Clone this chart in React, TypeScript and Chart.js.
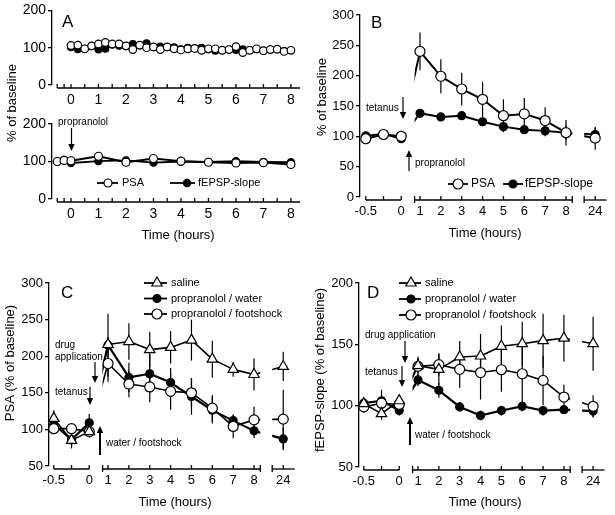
import React, { useEffect, useRef } from 'react';
import { Chart, registerables } from 'chart.js';

Chart.register(...registerables);

const FONT = "'Liberation Sans', Arial, Helvetica, sans-serif";
Chart.defaults.font.family = FONT;
Chart.defaults.color = '#000';

// ---------------- DATA ----------------
// Panel A (top): time course 0-8 h, every 15 min
const A_TOP_TIMES = [0, 0.25, 0.5, 0.75, 1, 1.25, 1.5, 1.75, 2, 2.25, 2.5, 2.75, 3, 3.25, 3.5, 3.75, 4, 4.25, 4.5, 4.75, 5, 5.25, 5.5, 5.75, 6, 6.25, 6.5, 6.75, 7, 7.25, 7.5, 7.75, 8];
const A_TOP_PSA = [106, 107, 97, 105, 110, 114, 110, 110, 105, 95, 107, 100, 102, 95, 102, 97, 94, 97, 98, 93, 97, 97, 93, 95, 103, 87, 93, 97, 92, 95, 96, 90, 93];
const A_TOP_FEPSP = [101, 96, 97, 104, 95, 97, 108, 105, 104, 110, 106, 112, 101, 103, 101, 101, 96, 100, 98, 100, 96, 92, 94, 95, 94, 96, 94, 96, 92, 95, 95, 91, 93];

// Panel A (bottom): propranolol
const A_BOT_TIMES = [-0.5, -0.25, 0, 1, 2, 3, 4, 5, 6, 7, 8];
const A_BOT_PSA = [100, 103, 102, 114, 98, 108, 101, 98, 96, 97, 92];
const A_BOT_FEPSP = [100, 104, 96, 101, 103, 97, 100, 99, 101, 99, 98];

// Panels B-D share time points
const TIMES_BCD = [-0.5, -0.25, 0, 1, 2, 3, 4, 5, 6, 7, 8, 24];

const B_PSA = [96, 103, 100, 240, 199, 178, 161, 134, 137, 126, 106, 97];
const B_PSA_ERR = [4, 4, 8, 31, 28, 27, 29, 27, 26, 22, 21, 19];
const B_FEPSP = [101, 104, 96, 138, 132, 134, 124, 116, 111, 109, 106, 103];
const B_FEPSP_ERR = [4, 3, 4, 6, 4, 6, 6, 9, 7, 9, 12, 11];

const C_SALINE = [115, 85, 97, 216, 220, 209, 212, 222, 196, 182, 175, 186];
const C_SALINE_ERR = [11, 11, 8, 10, 25, 24, 22, 28, 25, 10, 22, 20];
const C_WATER = [107, 86, 109, 215, 171, 176, 164, 145, 126, 112, 98, 87];
const C_WATER_ERR = [10, 8, 12, 43, 20, 27, 20, 25, 18, 8, 10, 15];
const C_SHOCK = [101, 101, 97, 190, 162, 158, 152, 150, 129, 104, 113, 114];
const C_SHOCK_ERR = [6, 5, 6, 25, 18, 21, 25, 20, 18, 16, 18, 40];

const D_SALINE = [101.6, 93.5, 104, 132.6, 129.6, 139.7, 140.5, 148.4, 150.5, 153, 155, 150.5];
const D_SALINE_ERR = [4, 5, 5, 6, 13, 13, 18, 17, 18, 22, 19, 22];
const D_WATER = [102, 104, 96, 121, 112.5, 99, 92, 96, 99.5, 96, 96.7, 95.6];
const D_WATER_ERR = [3, 9, 4, 5, 6, 4, 4, 4, 4, 4, 3, 5];
const D_SHOCK = [99, 102, 101, 132, 133.4, 129.6, 127, 129.3, 126, 120.6, 107, 99.5];
const D_SHOCK_ERR = [5, 4, 5, 8, 9, 15, 22, 18, 23, 20, 10, 9];

// Tick definitions
const A_X_TICKS = [-0.5, -0.25, 0, 0.5, 1, 1.5, 2, 2.5, 3, 3.5, 4, 4.5, 5, 5.5, 6, 6.5, 7, 7.5, 8];
const A_X_LABELS = ['', '', '0', '', '1', '', '2', '', '3', '', '4', '', '5', '', '6', '', '7', '', '8'];
const BCD_X_TICKS = [-0.5, -0.25, 0, 1, 2, 3, 4, 5, 6, 7, 8, 24];
const BCD_X_LABELS = ['-0.5', '', '0', '1', '2', '3', '4', '5', '6', '7', '8', '24'];

// ---------------- AXIS TRANSFORM (broken time axis) ----------------
const identity = (t: number) => t;
function brokenAxis(t: number): number {
  if (t <= 0) return 0.1 + t * 3.4; // baseline section stretched
  if (t <= 8) return t;
  return 9.4; // 24 h section
}
const BROKEN_SEGMENTS = [[-1.6, 0.1], [0.74, 8.3], [8.87, 9.95]];
const BROKEN_CAPS = [0.74, 8.3, 8.87];

// ---------------- TYPES ----------------
type Marker = 'open' | 'filled' | 'triangle';
interface SeriesSpec { label: string; times: number[]; values: number[]; errors?: number[]; marker: Marker; radius: number; lineWidth: number; }
interface TextSpec { text: string; x: number; y: number; size: number; align?: CanvasTextAlign; rotate?: boolean; }
interface ArrowSpec { x: number; from: number; to: number; width: number; }
interface LegendSpec { marker: Marker; radius: number; x1: number; x2: number; mx: number; y: number; text: string; tx: number; size: number; lineWidth: number; }
interface PanelSpec {
  area: { left: number; top: number; right: number; bottom: number };
  xMin: number; xMax: number; yMin: number; yMax: number; yStep: number;
  xPos: (t: number) => number;
  xTicks: number[]; xLabels: string[];
  axisSegments: number[][]; axisCaps: number[]; lineClips: number[][] | null;
  series: SeriesSpec[];
  texts: TextSpec[]; arrows: ArrowSpec[]; legend: LegendSpec[];
  tickFont: number;
}

const W = 615;
const H = 515;
const Y_AXIS_W = 40;
const X_AXIS_H = 30;

function drawMarker(ctx: CanvasRenderingContext2D, m: Marker, x: number, y: number, r: number) {
  ctx.save();
  ctx.beginPath();
  if (m === 'triangle') {
    ctx.moveTo(x, y - r);
    ctx.lineTo(x + 0.866 * r, y + 0.5 * r);
    ctx.lineTo(x - 0.866 * r, y + 0.5 * r);
    ctx.closePath();
  } else {
    ctx.arc(x, y, r, 0, Math.PI * 2);
  }
  ctx.fillStyle = m === 'filled' ? '#000' : '#fff';
  ctx.fill();
  ctx.lineWidth = 1.2;
  ctx.strokeStyle = '#000';
  ctx.stroke();
  ctx.restore();
}

function drawArrow(ctx: CanvasRenderingContext2D, a: ArrowSpec) {
  const dir = Math.sign(a.to - a.from);
  const headL = 7;
  const headW = 3.2;
  ctx.save();
  ctx.strokeStyle = '#000';
  ctx.fillStyle = '#000';
  ctx.lineWidth = a.width;
  ctx.beginPath();
  ctx.moveTo(a.x, a.from);
  ctx.lineTo(a.x, a.to - dir * headL);
  ctx.stroke();
  ctx.beginPath();
  ctx.moveTo(a.x, a.to);
  ctx.lineTo(a.x - headW, a.to - dir * headL);
  ctx.lineTo(a.x + headW, a.to - dir * headL);
  ctx.closePath();
  ctx.fill();
  ctx.restore();
}

function decorPlugin(p: PanelSpec) {
  return {
    id: 'decor',
    beforeDatasetsDraw(chart: any) {
      const ctx: CanvasRenderingContext2D = chart.ctx;
      const xs = chart.scales.x;
      const ys = chart.scales.y;
      // connecting lines (clipped to axis segments)
      p.series.forEach((s, di) => {
        if (!s.lineWidth) return;
        const meta = chart.getDatasetMeta(di);
        ctx.save();
        if (p.lineClips) {
          ctx.beginPath();
          p.lineClips.forEach(([a, b]) => {
            const xa = xs.getPixelForValue(a);
            const xb = xs.getPixelForValue(b);
            ctx.rect(xa, 0, xb - xa, H);
          });
          ctx.clip();
        }
        ctx.beginPath();
        meta.data.forEach((pt: any, i: number) => {
          if (i === 0) ctx.moveTo(pt.x, pt.y);
          else ctx.lineTo(pt.x, pt.y);
        });
        ctx.lineWidth = s.lineWidth;
        ctx.lineJoin = 'round';
        ctx.strokeStyle = '#000';
        ctx.stroke();
        ctx.restore();
      });
      // error bars
      p.series.forEach((s, di) => {
        if (!s.errors) return;
        const meta = chart.getDatasetMeta(di);
        ctx.save();
        ctx.strokeStyle = '#000';
        ctx.lineWidth = 1.2;
        s.errors.forEach((e, i) => {
          if (!e) return;
          const x = meta.data[i].x;
          ctx.beginPath();
          ctx.moveTo(x, ys.getPixelForValue(s.values[i] + e));
          ctx.lineTo(x, ys.getPixelForValue(s.values[i] - e));
          ctx.stroke();
        });
        ctx.restore();
      });
    },
    afterDraw(chart: any) {
      const ctx: CanvasRenderingContext2D = chart.ctx;
      const xs = chart.scales.x;
      const axY = chart.chartArea.bottom + 3;
      ctx.save();
      ctx.strokeStyle = '#000';
      ctx.lineWidth = 1.3;
      // broken x axis
      p.axisSegments.forEach(([a, b]) => {
        ctx.beginPath();
        ctx.moveTo(xs.getPixelForValue(a), axY);
        ctx.lineTo(xs.getPixelForValue(b), axY);
        ctx.stroke();
      });
      p.xTicks.forEach((t) => {
        const x = xs.getPixelForValue(p.xPos(t));
        ctx.beginPath();
        ctx.moveTo(x, axY);
        ctx.lineTo(x, axY - 4);
        ctx.stroke();
      });
      p.axisCaps.forEach((u) => {
        const x = xs.getPixelForValue(u);
        ctx.beginPath();
        ctx.moveTo(x, axY - 4);
        ctx.lineTo(x, axY + 3);
        ctx.stroke();
      });
      // texts
      ctx.fillStyle = '#000';
      p.texts.forEach((t) => {
        ctx.save();
        ctx.font = `${t.size}px ${FONT}`;
        ctx.textBaseline = 'middle';
        ctx.textAlign = t.align || 'left';
        if (t.rotate) {
          ctx.translate(t.x, t.y);
          ctx.rotate(-Math.PI / 2);
          ctx.textAlign = 'center';
          ctx.fillText(t.text, 0, 0);
        } else {
          ctx.fillText(t.text, t.x, t.y);
        }
        ctx.restore();
      });
      p.arrows.forEach((a) => drawArrow(ctx, a));
      // legend
      p.legend.forEach((l) => {
        ctx.save();
        ctx.strokeStyle = '#000';
        ctx.lineWidth = l.lineWidth;
        ctx.beginPath();
        ctx.moveTo(l.x1, l.y);
        ctx.lineTo(l.x2, l.y);
        ctx.stroke();
        ctx.restore();
        drawMarker(ctx, l.marker, l.mx, l.y, l.radius);
        ctx.save();
        ctx.fillStyle = '#000';
        ctx.font = `${l.size}px ${FONT}`;
        ctx.textBaseline = 'middle';
        ctx.textAlign = 'left';
        ctx.fillText(l.text, l.tx, l.y);
        ctx.restore();
      });
      ctx.restore();
    },
  };
}

function buildConfig(p: PanelSpec): any {
  const datasets = p.series.map((s) => ({
    type: 'line',
    label: s.label,
    data: s.times.map((t, i) => ({ x: p.xPos(t), y: s.values[i] })),
    showLine: false,
    clip: false,
    pointStyle: s.marker === 'triangle' ? 'triangle' : 'circle',
    pointRadius: s.radius,
    pointHoverRadius: s.radius,
    pointBackgroundColor: s.marker === 'filled' ? '#000' : '#fff',
    pointBorderColor: '#000',
    pointBorderWidth: 1.2,
  }));
  return {
    type: 'line',
    data: { datasets },
    options: {
      responsive: false,
      animation: false,
      events: [],
      layout: {
        padding: {
          left: p.area.left - Y_AXIS_W,
          top: p.area.top,
          right: W - p.area.right,
          bottom: H - p.area.bottom - X_AXIS_H,
        },
      },
      plugins: { legend: { display: false }, tooltip: { enabled: false } },
      scales: {
        x: {
          type: 'linear',
          min: p.xMin,
          max: p.xMax,
          afterBuildTicks: (sc: any) => {
            sc.ticks = p.xTicks.map((t) => ({ value: p.xPos(t) }));
          },
          afterFit: (sc: any) => {
            sc.height = X_AXIS_H;
          },
          grid: { display: false, drawTicks: false },
          border: { display: false },
          ticks: {
            autoSkip: false,
            maxRotation: 0,
            minRotation: 0,
            padding: 7,
            color: '#000',
            font: { size: p.tickFont, family: FONT },
            callback: (_v: any, i: number) => p.xLabels[i],
          },
        },
        y: {
          type: 'linear',
          min: p.yMin,
          max: p.yMax,
          afterFit: (sc: any) => {
            sc.width = Y_AXIS_W;
          },
          ticks: {
            stepSize: p.yStep,
            padding: 2,
            color: '#000',
            font: { size: p.tickFont, family: FONT },
          },
          grid: { drawOnChartArea: false, drawTicks: true, tickLength: 4, color: '#000', lineWidth: 1.3 },
          border: { display: true, color: '#000', width: 1.3 },
        },
      },
    },
    plugins: [decorPlugin(p)],
  };
}

// ---------------- PANELS ----------------
const PANEL_A_TOP: PanelSpec = {
  area: { left: 52, top: 10, right: 300, bottom: 85 },
  xMin: -0.69, xMax: 8.33, yMin: 0, yMax: 200, yStep: 50,
  xPos: identity, xTicks: A_X_TICKS, xLabels: A_X_LABELS,
  axisSegments: [[-0.5, 8.33]], axisCaps: [], lineClips: null,
  series: [
    { label: 'PSA', times: A_TOP_TIMES, values: A_TOP_PSA, marker: 'open', radius: 3.8, lineWidth: 0 },
    { label: 'fEPSP-slope', times: A_TOP_TIMES, values: A_TOP_FEPSP, marker: 'filled', radius: 3.4, lineWidth: 0 },
  ],
  texts: [
    { text: 'A', x: 62, y: 22, size: 17 },
    { text: '% of baseline', x: 12, y: 103, size: 13, rotate: true },
  ],
  arrows: [], legend: [], tickFont: 14,
};

const PANEL_A_BOT: PanelSpec = {
  area: { left: 52, top: 124, right: 300, bottom: 199 },
  xMin: -0.69, xMax: 8.33, yMin: 0, yMax: 200, yStep: 50,
  xPos: identity, xTicks: A_X_TICKS, xLabels: A_X_LABELS,
  axisSegments: [[-0.5, 8.33]], axisCaps: [], lineClips: null,
  series: [
    { label: 'PSA', times: A_BOT_TIMES, values: A_BOT_PSA, marker: 'open', radius: 4, lineWidth: 2 },
    { label: 'fEPSP-slope', times: A_BOT_TIMES, values: A_BOT_FEPSP, marker: 'filled', radius: 3.6, lineWidth: 2 },
  ],
  texts: [
    { text: 'propranolol', x: 58, y: 122, size: 10 },
    { text: 'Time (hours)', x: 178, y: 235, size: 13, align: 'center' },
  ],
  arrows: [{ x: 71.5, from: 128, to: 151, width: 1.2 }],
  legend: [
    { marker: 'open', radius: 4, x1: 97, x2: 118, mx: 108, y: 183, text: 'PSA', tx: 122, size: 11, lineWidth: 1.8 },
    { marker: 'filled', radius: 3.6, x1: 170, x2: 195, mx: 187, y: 183, text: 'fEPSP-slope', tx: 198, size: 11, lineWidth: 1.8 },
  ],
  tickFont: 14,
};

const PANEL_B: PanelSpec = {
  area: { left: 360, top: 15, right: 605, bottom: 197 },
  xMin: -1.877, xMax: 9.87, yMin: 0, yMax: 300, yStep: 50,
  xPos: brokenAxis, xTicks: BCD_X_TICKS, xLabels: BCD_X_LABELS,
  axisSegments: BROKEN_SEGMENTS, axisCaps: BROKEN_CAPS, lineClips: [[-1.6, 0.1], [0.74, 8.3], [8.87, 10]],
  series: [
    { label: 'PSA', times: TIMES_BCD, values: B_PSA, errors: B_PSA_ERR, marker: 'open', radius: 5, lineWidth: 2 },
    { label: 'fEPSP-slope', times: TIMES_BCD, values: B_FEPSP, errors: B_FEPSP_ERR, marker: 'filled', radius: 4, lineWidth: 2 },
  ],
  texts: [
    { text: 'B', x: 371, y: 23, size: 17 },
    { text: '% of baseline', x: 322, y: 97, size: 13, rotate: true },
    { text: 'tetanus', x: 366, y: 108, size: 10 },
    { text: 'propranolol', x: 415, y: 163, size: 10 },
    { text: 'Time (hours)', x: 485, y: 233, size: 13, align: 'center' },
  ],
  arrows: [
    { x: 403, from: 97, to: 119, width: 1.2 },
    { x: 409, from: 171, to: 150, width: 1.2 },
  ],
  legend: [
    { marker: 'open', radius: 5, x1: 448, x2: 468, mx: 458, y: 184, text: 'PSA', tx: 471, size: 12, lineWidth: 1.8 },
    { marker: 'filled', radius: 4, x1: 503, x2: 523, mx: 513, y: 184, text: 'fEPSP-slope', tx: 525, size: 12, lineWidth: 1.8 },
  ],
  tickFont: 13,
};

const PANEL_C: PanelSpec = {
  area: { left: 49, top: 283, right: 297, bottom: 466 },
  xMin: -1.83, xMax: 10.06, yMin: 50, yMax: 300, yStep: 50,
  xPos: brokenAxis, xTicks: BCD_X_TICKS, xLabels: BCD_X_LABELS,
  axisSegments: BROKEN_SEGMENTS, axisCaps: BROKEN_CAPS, lineClips: [[-1.6, 0.1], [0.74, 8.3], [8.87, 10.1]],
  series: [
    { label: 'saline', times: TIMES_BCD, values: C_SALINE, errors: C_SALINE_ERR, marker: 'triangle', radius: 6, lineWidth: 1.6 },
    { label: 'propranolol / footshock', times: TIMES_BCD, values: C_SHOCK, errors: C_SHOCK_ERR, marker: 'open', radius: 5, lineWidth: 1.6 },
    { label: 'propranolol / water', times: TIMES_BCD, values: C_WATER, errors: C_WATER_ERR, marker: 'filled', radius: 4, lineWidth: 2.2 },
  ],
  texts: [
    { text: 'C', x: 61, y: 293, size: 17 },
    { text: 'PSA (% of baseline)', x: 10, y: 363, size: 13, rotate: true },
    { text: 'drug', x: 55, y: 345, size: 10 },
    { text: 'application', x: 55, y: 357, size: 10 },
    { text: 'tetanus', x: 55, y: 392, size: 10 },
    { text: 'water / footshock', x: 106, y: 443, size: 10 },
    { text: 'Time (hours)', x: 175, y: 502, size: 13, align: 'center' },
  ],
  arrows: [
    { x: 95, from: 362, to: 383, width: 1.2 },
    { x: 90, from: 387, to: 405, width: 1.2 },
    { x: 100, from: 455, to: 426, width: 2 },
  ],
  legend: [
    { marker: 'triangle', radius: 6, x1: 144, x2: 167, mx: 157, y: 283, text: 'saline', tx: 171, size: 11, lineWidth: 1.8 },
    { marker: 'filled', radius: 4, x1: 144, x2: 167, mx: 157, y: 298.5, text: 'propranolol / water', tx: 171, size: 11, lineWidth: 1.8 },
    { marker: 'open', radius: 5, x1: 144, x2: 167, mx: 157, y: 314, text: 'propranolol / footshock', tx: 171, size: 11, lineWidth: 1.8 },
  ],
  tickFont: 13,
};

const PANEL_D: PanelSpec = {
  area: { left: 359, top: 283, right: 605, bottom: 467 },
  xMin: -1.83, xMax: 9.97, yMin: 50, yMax: 200, yStep: 50,
  xPos: brokenAxis, xTicks: BCD_X_TICKS, xLabels: BCD_X_LABELS,
  axisSegments: BROKEN_SEGMENTS, axisCaps: BROKEN_CAPS, lineClips: [[-1.6, 0.1], [0.74, 8.3], [8.87, 10]],
  series: [
    { label: 'saline', times: TIMES_BCD, values: D_SALINE, errors: D_SALINE_ERR, marker: 'triangle', radius: 6, lineWidth: 1.6 },
    { label: 'propranolol / footshock', times: TIMES_BCD, values: D_SHOCK, errors: D_SHOCK_ERR, marker: 'open', radius: 5, lineWidth: 1.6 },
    { label: 'propranolol / water', times: TIMES_BCD, values: D_WATER, errors: D_WATER_ERR, marker: 'filled', radius: 4, lineWidth: 2.2 },
  ],
  texts: [
    { text: 'D', x: 367, y: 293, size: 17 },
    { text: 'fEPSP-slope (% of baseline)', x: 320, y: 370, size: 13, rotate: true },
    { text: 'drug application', x: 365, y: 335, size: 10 },
    { text: 'tetanus', x: 365, y: 372, size: 10 },
    { text: 'water / footshock', x: 415, y: 435, size: 10 },
    { text: 'Time (hours)', x: 485, y: 502, size: 13, align: 'center' },
  ],
  arrows: [
    { x: 405, from: 341, to: 363, width: 1.2 },
    { x: 402, from: 366, to: 387, width: 1.2 },
    { x: 410, from: 445, to: 417, width: 2 },
  ],
  legend: [
    { marker: 'triangle', radius: 6, x1: 399, x2: 421, mx: 411, y: 283, text: 'saline', tx: 425, size: 11, lineWidth: 1.8 },
    { marker: 'filled', radius: 4, x1: 399, x2: 421, mx: 411, y: 299, text: 'propranolol / water', tx: 425, size: 11, lineWidth: 1.8 },
    { marker: 'open', radius: 5, x1: 399, x2: 421, mx: 411, y: 315, text: 'propranolol / footshock', tx: 425, size: 11, lineWidth: 1.8 },
  ],
  tickFont: 13,
};

const PANELS = [PANEL_A_TOP, PANEL_A_BOT, PANEL_B, PANEL_C, PANEL_D];

function PanelCanvas({ spec }: { spec: PanelSpec }) {
  const ref = useRef<HTMLCanvasElement>(null);
  useEffect(() => {
    if (!ref.current) return;
    const chart = new Chart(ref.current, buildConfig(spec));
    return () => chart.destroy();
  }, [spec]);
  return (
    <canvas
      ref={ref}
      width={W}
      height={H}
      style={{ position: 'absolute', left: 0, top: 0, width: W, height: H }}
    />
  );
}

export default function App() {
  return (
    <div style={{ position: 'absolute', left: 0, top: 0, width: W, height: H, background: '#fff', overflow: 'hidden' }}>
      {PANELS.map((s, i) => (
        <PanelCanvas key={i} spec={s} />
      ))}
    </div>
  );
}
